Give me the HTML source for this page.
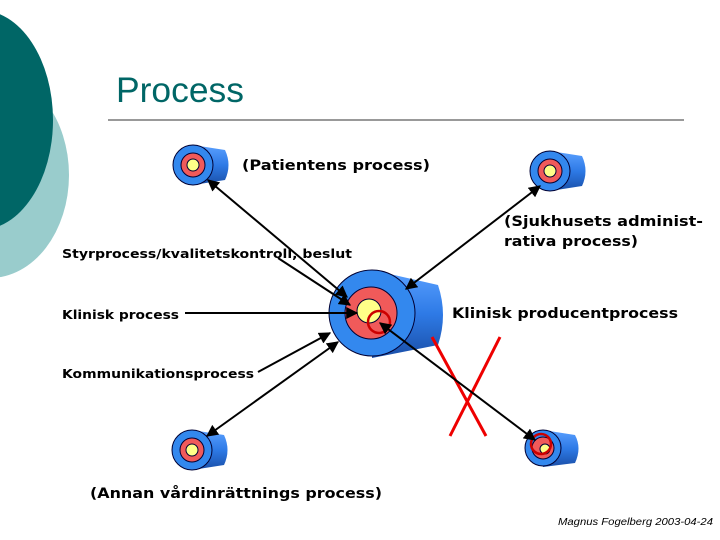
<!DOCTYPE html>
<html><head><style>body{margin:0;background:#fff}svg{display:block}text{font-family:"DejaVu Sans","Liberation Sans",sans-serif;font-weight:bold;fill:#000}</style></head><body>
<svg width="720" height="540" viewBox="0 0 720 540" xmlns="http://www.w3.org/2000/svg">
<defs>
<linearGradient id="cy" x1="0" y1="0" x2="0" y2="1"><stop offset="0" stop-color="#5aa0ff"/><stop offset="0.5" stop-color="#2e7ae6"/><stop offset="1" stop-color="#1a4fa8"/></linearGradient>
<marker id="ar" viewBox="0 0 10 10" refX="9" refY="5" markerWidth="6" markerHeight="6" orient="auto-start-reverse"><path d="M0 0L10 5L0 10z" fill="#000"/></marker>
</defs>
<ellipse cx="-10" cy="175" rx="79" ry="103" fill="#99cccc"/>
<ellipse cx="-20" cy="120" rx="73" ry="110" fill="#006666"/>
<text x="116" y="102" font-size="35" textLength="128" lengthAdjust="spacingAndGlyphs" style="font-weight:normal;fill:#006666;font-family:'Liberation Sans',sans-serif">Process</text>
<line x1="108" y1="120" x2="684" y2="120" stroke="#333" stroke-width="1"/>
<g>
<path d="M193 145 L225 150 Q232 165 225 180 L193 185z" fill="url(#cy)"/>
<circle cx="193" cy="165" r="20" fill="#3388ee" stroke="#003" stroke-width="1"/>
<circle cx="193" cy="165" r="12" fill="#f05a5a" stroke="#003" stroke-width="1"/>
<circle cx="193" cy="165" r="6" fill="#ffff88" stroke="#003" stroke-width="1"/>
</g>
<g>
<path d="M550 151 L582 156 Q589 171 582 186 L550 191z" fill="url(#cy)"/>
<circle cx="550" cy="171" r="20" fill="#3388ee" stroke="#003" stroke-width="1"/>
<circle cx="550" cy="171" r="12" fill="#f05a5a" stroke="#003" stroke-width="1"/>
<circle cx="550" cy="171" r="6" fill="#ffff88" stroke="#003" stroke-width="1"/>
</g>
<g>
<path d="M192 430 L224 435 Q231 450 224 465 L192 470z" fill="url(#cy)"/>
<circle cx="192" cy="450" r="20" fill="#3388ee" stroke="#003" stroke-width="1"/>
<circle cx="192" cy="450" r="12" fill="#f05a5a" stroke="#003" stroke-width="1"/>
<circle cx="192" cy="450" r="6" fill="#ffff88" stroke="#003" stroke-width="1"/>
</g>
<g>
<path d="M543 430 L575 435 Q582 448 575 463 L543 467z" fill="url(#cy)"/>
<circle cx="543" cy="448" r="18" fill="#3388ee" stroke="#003" stroke-width="1"/>
<circle cx="543" cy="448" r="11" fill="#f05a5a" stroke="#003" stroke-width="1"/>
<circle cx="545" cy="449" r="5" fill="#ffff88" stroke="#003" stroke-width="1"/>
<circle cx="541" cy="444" r="10" fill="none" stroke="#c00" stroke-width="2.5"/>
</g>
<g>
<path d="M372 270 L438 285 Q448 315 438 345 L372 358z" fill="url(#cy)"/>
<circle cx="372" cy="313" r="43" fill="#3388ee" stroke="#003" stroke-width="1"/>
<circle cx="371" cy="313" r="26" fill="#f05a5a" stroke="#003" stroke-width="1"/>
<circle cx="369" cy="311" r="12" fill="#ffff88" stroke="#003" stroke-width="1"/>
<circle cx="379" cy="322" r="11" fill="none" stroke="#c00" stroke-width="2.5"/>
</g>
<line x1="432" y1="337" x2="486" y2="436" stroke="#e00" stroke-width="3"/>
<line x1="500" y1="337" x2="450" y2="436" stroke="#e00" stroke-width="3"/>
<g stroke="#000" stroke-width="2" fill="none">
<line x1="208" y1="180" x2="347" y2="297" marker-start="url(#ar)" marker-end="url(#ar)"/>
<line x1="540" y1="186" x2="406" y2="289" marker-start="url(#ar)" marker-end="url(#ar)"/>
<line x1="278" y1="258" x2="350" y2="305" marker-end="url(#ar)"/>
<line x1="185" y1="313" x2="357" y2="313" marker-end="url(#ar)"/>
<line x1="258" y1="372" x2="330" y2="333" marker-end="url(#ar)"/>
<line x1="207" y1="436" x2="338" y2="342" marker-start="url(#ar)" marker-end="url(#ar)"/>
<line x1="380" y1="323" x2="535" y2="440" marker-start="url(#ar)" marker-end="url(#ar)"/>
</g>
<g style="font-size:14px">
<text x="242" y="170" textLength="188" lengthAdjust="spacingAndGlyphs">(Patientens process)</text>
<text x="504" y="226" textLength="199" lengthAdjust="spacingAndGlyphs">(Sjukhusets administ-</text>
<text x="504" y="246" textLength="134" lengthAdjust="spacingAndGlyphs">rativa process)</text>
<text x="452" y="318" textLength="226" lengthAdjust="spacingAndGlyphs">Klinisk producentprocess</text>
<text x="90" y="498" textLength="292" lengthAdjust="spacingAndGlyphs">(Annan vårdinrättnings process)</text>
</g>
<g style="font-size:12px">
<text x="62" y="258" textLength="290" lengthAdjust="spacingAndGlyphs">Styrprocess/kvalitetskontroll, beslut</text>
<text x="62" y="319" textLength="117" lengthAdjust="spacingAndGlyphs">Klinisk process</text>
<text x="62" y="378" textLength="192" lengthAdjust="spacingAndGlyphs">Kommunikationsprocess</text>
</g>
<text x="558" y="525" font-size="10" textLength="155" lengthAdjust="spacingAndGlyphs" style="font-weight:normal;font-style:italic;font-family:'Liberation Sans',sans-serif">Magnus Fogelberg 2003-04-24</text>
</svg>
</body></html>
